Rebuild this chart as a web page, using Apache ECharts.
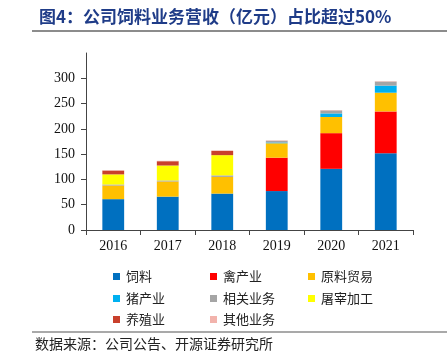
<!DOCTYPE html>
<html><head><meta charset="utf-8">
<script src="https://cdn.jsdelivr.net/npm/echarts@6/dist/echarts.min.js"></script>
<style>html,body{margin:0;padding:0;background:#fff}#c{width:447px;height:359px}</style>
</head><body><div id="c"></div>
<script>
const years = ['2016','2017','2018','2019','2020','2021'];
const feed      = [61, 66, 72, 77, 121, 152];
const poultry   = [0, 0, 0, 66, 70.5, 82.5];
const rawTrade  = [27, 30, 33, 28.5, 32, 37];
const pig       = [0, 0, 0, 1.5, 7, 14];
const related   = [2, 2, 3, 3.5, 6, 8];
const slaughter = [20, 29.5, 40, 0, 0, 0];
const breeding  = [7.5, 8.5, 8.5, 0, 0, 0];
const other     = [0.8, 0.8, 0.8, 0.8, 0.8, 0.8];
const yTicks = [0, 50, 100, 150, 200, 250, 300];

const names = ['饲料','禽产业','原料贸易','猪产业','相关业务','屠宰加工','养殖业','其他业务'];
const colors = ['#0070C0','#FF0000','#FFC000','#00B0F0','#A5A5A5','#FFFF00','#C9402C','#F2B3AC'];
const datas = [feed, poultry, rawTrade, pig, related, slaughter, breeding, other];

const legendPos = [[108,265],[205,265],[303,265],[108,287],[205,287],[303,287],[108,308],[205,308]];
const legends = names.map((n,i)=>({
  data:[n], left:legendPos[i][0], top:legendPos[i][1], itemWidth:7, itemHeight:7, itemGap:0,
  icon:'rect', textStyle:{fontFamily:'Noto Sans CJK SC', fontSize:13, color:'#222', padding:[0,0,0,1]}
}));

const chart = echarts.init(document.getElementById('c'), null, {renderer:'canvas'});
chart.setOption({
  animation:false,
  title:{text:'图4：公司饲料业务营收（亿元）占比超过50%', left:34, top:3,
    textStyle:{fontFamily:'Noto Sans CJK SC', fontWeight:'bold', fontSize:17, color:'#1F3C88'}},
  graphic:[
    {type:'line', shape:{x1:32,y1:31,x2:447,y2:31}, style:{stroke:'#8c8c8c', lineWidth:2}},
    {type:'line', shape:{x1:32,y1:332,x2:447,y2:332}, style:{stroke:'#8c8c8c', lineWidth:1.5}},
    {type:'text', left:35, top:337, style:{text:'数据来源：公司公告、开源证券研究所', fontFamily:'Noto Sans CJK SC', fontSize:14, fill:'#222'}}
  ],
  legend: legends,
  grid:{left:86, right:34, top:53, bottom:129},
  xAxis:{type:'category', data:years,
    axisLine:{lineStyle:{color:'#444', width:1}},
    axisTick:{show:true, length:5, lineStyle:{color:'#444'}},
    axisLabel:{fontFamily:'Liberation Serif', fontSize:14, color:'#111', margin:9}},
  yAxis:{type:'value', min:0, max:350, interval:50,
    axisLine:{show:true, lineStyle:{color:'#444'}},
    axisTick:{show:true, length:5, customValues:yTicks, lineStyle:{color:'#444'}},
    splitLine:{show:false},
    axisLabel:{fontFamily:'Liberation Serif', fontSize:14, color:'#111', margin:11, showMaxLabel:false,
      formatter:v=> yTicks.includes(v) ? String(v) : ''}},
  series: names.map((n,i)=>({
    name:n, type:'bar', stack:'total', data:datas[i], barWidth:'40%',
    itemStyle:{color:colors[i]}
  }))
});
</script></body></html>
